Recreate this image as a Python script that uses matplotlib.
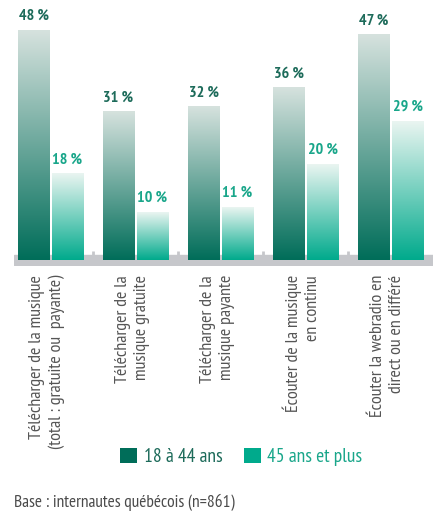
import numpy as np
import matplotlib
matplotlib.use("Agg")
import matplotlib.pyplot as plt
from matplotlib.colors import LinearSegmentedColormap
from matplotlib.transforms import blended_transform_factory

plt.rcParams['font.family'] = ['PT Sans Narrow', 'Fira Sans Condensed', 'Archivo Narrow', 'DejaVu Sans']

categories = ["Télécharger de la musique\n(total : gratuite ou  payante)",
              "Télécharger de la\nmusique gratuite",
              "Télécharger de la\nmusique payante",
              "Écouter de la musique\nen continu",
              "Écouter la webradio en\ndirect ou en différé"]
young = [48, 31, 32, 36, 47]
older = [18, 10, 11, 20, 29]
series_names = ["18 à 44 ans", "45 ans et plus"]

dark, light = '#006d59', '#00aa8c'
dark_txt, light_txt = '#1d6b5a', '#19a68a'
cmap_dark = LinearSegmentedColormap.from_list('d', ['#d6e2de', dark])
cmap_light = LinearSegmentedColormap.from_list('l', ['#eaf5f1', light])

fig = plt.figure(figsize=(4.39, 5.14), dpi=100)
# axes spans x 14..433 px, y 0..266 px (from top)
ax = fig.add_axes([14/439, (514-266)/514, (433-14)/439, 266/514])
px = 4.79  # pixels per percent
ax.axis('off')

x = np.arange(len(categories))
w, off = 0.365, 0.2

# grey base band and separators
ax.axhspan(-5/px, 5/px, color='#c6c7cb', zorder=1)
for s in x[:-1] + 0.5:
    ax.plot([s, s], [5/px, 9.5/px], color='#c6c7cb', lw=2, solid_capstyle='butt', zorder=1)

bars_y = ax.bar(x - off, young, w, color=dark, zorder=2, label=series_names[0])
bars_o = ax.bar(x + off, older, w, color=light, zorder=2, label=series_names[1])

grad = np.linspace(0, 1, 256).reshape(-1, 1)
for bars, cm, tc in [(bars_y, cmap_dark, dark_txt), (bars_o, cmap_light, light_txt)]:
    for b in bars:
        x0, h, bw = b.get_x(), b.get_height(), b.get_width()
        ax.imshow(grad, cmap=cm, aspect='auto', extent=(x0, x0 + bw, 0, h),
                  origin='upper', zorder=3, interpolation='bilinear')
        ax.text(x0 + bw/2, h + 1.5, f"{h:.0f} %", ha='center', va='bottom',
                color=tc, fontsize=11.5, fontweight='bold')
ax.set_xlim(-0.43, 4.5)
ax.set_ylim(-6/px, 260/px)

tr = blended_transform_factory(ax.transData, fig.transFigure)
for i, lab in enumerate(categories):
    ax.text(i - 0.04, (514-275)/514, lab, transform=tr, rotation=90, ha='center',
            va='top', multialignment='right', fontsize=13, color='#555555',
            linespacing=1.25)

leg = fig.legend(handles=[bars_y, bars_o], loc='center left',
                 bbox_to_anchor=(103/439, (514-457)/514), ncol=2, frameon=False,
                 handlelength=0.85, handleheight=0.85, handletextpad=0.35,
                 columnspacing=1.1, fontsize=14)
for t, c in zip(leg.get_texts(), [dark_txt, light_txt]):
    t.set_color(c)

fig.text(14/439, (514-502)/514, "Base : internautes québécois (n=861)",
         fontsize=12.5, color='#4a4a4a', va='center', ha='left')

fig.savefig('out.png', dpi=100, facecolor='white')
